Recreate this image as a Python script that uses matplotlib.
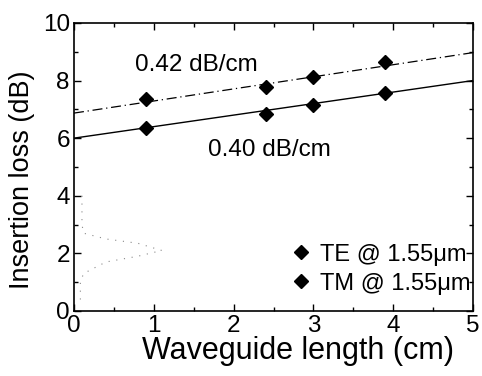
import matplotlib
matplotlib.use("Agg")
import matplotlib.pyplot as plt
import numpy as np
from matplotlib.ticker import MultipleLocator

plt.rcParams['font.family'] = ['Liberation Sans', 'DejaVu Sans']

# Data
length_cm = [0.9, 2.4, 3.0, 3.9]
te_loss = [7.35, 7.77, 8.12, 8.64]
tm_loss = [6.34, 6.83, 7.14, 7.56]
fit_x = [0, 5]
te_fit_intercept, te_fit_slope = 6.87, 0.42
tm_fit_intercept, tm_fit_slope = 6.0, 0.40
labels = ["TE @ 1.55\u03bcm", "TM @ 1.55\u03bcm"]
slope_labels = ["0.42 dB/cm", "0.40 dB/cm"]

# faint scan artifact (dotted trace near lower-left)
art_x = [0.1, 0.1, 0.12, 0.4, 0.8, 1.1, 0.8, 0.4, 0.12, 0.08, 0.08]
art_y = [4.0, 3.0, 2.7, 2.5, 2.35, 2.1, 1.9, 1.7, 1.3, 1.0, 0.2]

fig = plt.figure(figsize=(4.82, 3.76), dpi=100)
ax = fig.add_axes([0.1535, 0.173, 0.828, 0.766])

fx = np.array(fit_x, dtype=float)
ax.plot(fx, te_fit_intercept + te_fit_slope * fx, color='black', lw=0.9, ls=(0, (8, 3, 1, 3)))
ax.plot(fx, tm_fit_intercept + tm_fit_slope * fx, color='black', lw=1.0, ls='-')
ax.plot(art_x, art_y, color='#888888', lw=0.8, ls=(0, (1, 6)))

ax.plot(length_cm, te_loss, ls='none', marker='D', ms=7, color='black', label=labels[0])
ax.plot(length_cm, tm_loss, ls='none', marker='D', ms=7, color='black', label=labels[1])

ax.text(0.76, 8.55, slope_labels[0], fontsize=17.5, va='center', ha='left')
ax.text(1.68, 5.6, slope_labels[1], fontsize=17.5, va='center', ha='left')

ax.set_xlim(0, 5)
ax.set_ylim(0, 10)
ax.xaxis.set_major_locator(MultipleLocator(1))
ax.xaxis.set_minor_locator(MultipleLocator(0.5))
ax.yaxis.set_major_locator(MultipleLocator(2))
ax.yaxis.set_minor_locator(MultipleLocator(1))
ax.tick_params(which='both', direction='in', top=True, right=True, labelsize=17.5, width=1)
ax.tick_params(which='major', length=5, pad=3)
ax.tick_params(which='minor', length=3)
for s in ax.spines.values():
    s.set_linewidth(1.2)

ax.set_xlabel("Waveguide length (cm)", fontsize=22)
ax.set_ylabel("Insertion loss (dB)", fontsize=19.5)
ax.xaxis.set_label_coords(0.561, -0.087)
ax.yaxis.set_label_coords(-0.098, 0.455)

leg = ax.legend(loc='lower right', frameon=False, fontsize=17, handletextpad=0.3,
                borderaxespad=0.0, borderpad=0.2, labelspacing=0.3, handlelength=1.0,
                bbox_to_anchor=(1.005, 0.04))

fig.savefig("out.png", dpi=100)
